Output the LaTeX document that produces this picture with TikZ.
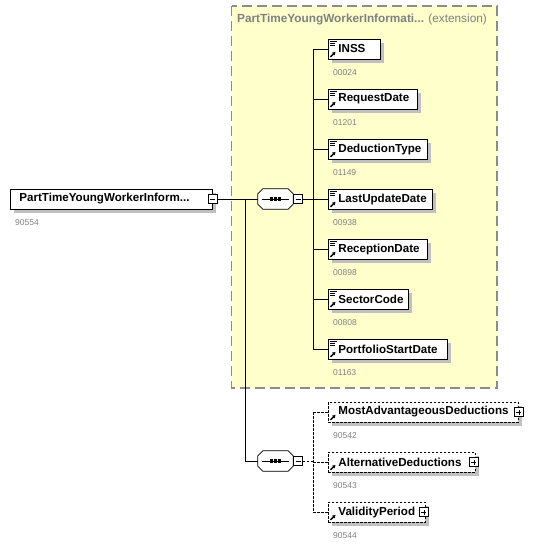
\documentclass[tikz,border=0pt]{standalone}
\usepackage{fontspec}
\setmainfont{Liberation Sans}
\usetikzlibrary{shadows,calc,arrows.meta}
\definecolor{boxyellow}{RGB}{255,255,204}
\definecolor{shadowgray}{RGB}{192,192,192}
\definecolor{numgray}{RGB}{128,128,128}
\definecolor{framegray}{RGB}{140,140,140}
\tikzset{
  shad/.style={drop shadow={shadow xshift=4pt,shadow yshift=-4pt,fill=shadowgray,opacity=1}},
  elembox/.style={draw=black,fill=white,line width=0.8pt,minimum height=20pt,inner xsep=0pt,inner ysep=0pt,
    anchor=west,align=left,font=\fontsize{11.6}{13}\selectfont\bfseries,shad},
  optbox/.style={elembox,dash pattern=on 2.5pt off 1.5pt},
  numlbl/.style={anchor=west,font=\fontsize{8.5}{10}\selectfont,text=numgray,inner sep=0pt},
  pmbox/.style={draw=black,fill=white,minimum size=9pt,inner sep=0pt,line width=0.6pt},
  minusbox/.style={pmbox,path picture={\draw[line width=0.6pt] ([xshift=2pt]path picture bounding box.west) -- ([xshift=-2pt]path picture bounding box.east);}},
  plusbox/.style={pmbox,path picture={\draw[line width=0.6pt] ([xshift=2pt]path picture bounding box.west) -- ([xshift=-2pt]path picture bounding box.east);
      \draw[line width=0.6pt] ([yshift=2pt]path picture bounding box.south) -- ([yshift=-2pt]path picture bounding box.north);}},
  seqbox/.style={rectangle,minimum width=35pt,minimum height=20pt,inner sep=0pt},
  octline/.style={draw=black,fill=white,line width=0.8pt},
  conn/.style={line width=0.8pt},
  optconn/.style={line width=0.8pt,dash pattern=on 2.5pt off 1.5pt},
  iconline/.style={line width=0.7pt},
  iconarrow/.style={line width=1.3pt,-{Triangle[length=3pt,width=3.5pt]}},
}
\newcommand{\lineicon}[1]{%
  \draw[iconline] ([shift={(2,2.5)}]#1.north west) -- ++(7,0);
  \draw[iconline] ([shift={(2,4.5)}]#1.north west) -- ++(5,0);
  \draw[iconline] ([shift={(2,6.5)}]#1.north west) -- ++(5,0);}
\newcommand{\arrowicon}[1]{%
  \draw[iconarrow] ([shift={(2.5,-2.5)}]#1.south west) -- ++(5,-5);}
\newcommand{\octpath}[1]{%
  ([xshift=5pt]#1.north west) -- ([xshift=-5pt]#1.north east) -- ([yshift=-5pt]#1.north east)
  -- ([yshift=5pt]#1.south east) -- ([xshift=-5pt]#1.south east) -- ([xshift=5pt]#1.south west)
  -- ([yshift=5pt]#1.south west) -- ([yshift=-5pt]#1.north west) -- cycle}
\newcommand{\seqglyph}[1]{%
  \fill[shadowgray,shift={(4,4)}] \octpath{#1};
  \path[octline] \octpath{#1};
  \draw[line width=0.9pt] ([xshift=4pt]#1.west) -- ([xshift=-4pt]#1.east);
  \fill ([shift={(-5.6,-1.6)}]#1.center) rectangle ++(3.2,3.2);
  \fill ([shift={(-1.6,-1.6)}]#1.center) rectangle ++(3.2,3.2);
  \fill ([shift={(2.4,-1.6)}]#1.center) rectangle ++(3.2,3.2);}
\begin{document}
\begin{tikzpicture}[x=1pt,y=-1pt]
\useasboundingbox (0,0) rectangle (551,544);
% extension box
\draw[fill=boxyellow,draw=framegray,line width=1.2pt,dash pattern=on 10pt off 5pt] (231.5,6) rectangle (497,388);
\node[anchor=west,inner sep=0pt,text=numgray] (title) at (237,19.5)
  {\fontsize{11.8}{13}\selectfont\textbf{PartTimeYoungWorkerInformati...} (extension)};

% main element
\node[elembox,text width=202pt] (main) at (10,199) {\hspace*{9pt}PartTimeYoungWorkerInform...};
\node[minusbox] (m0) at (main.east) {};
\node[numlbl] (n0) at ([shift={(5,13)}]main.south west) {90554};

% sequence 1
\node[seqbox] (s1) at (275.5,199) {};
\seqglyph{s1}
\node[minusbox,anchor=west] (ms1) at (s1.east) {};

% sequence 2
\node[seqbox] (s2) at (275.5,461) {};
\seqglyph{s2}
\node[minusbox,anchor=west] (ms2) at (s2.east) {};

\coordinate (j0) at (245,199);
\coordinate (j1) at (313,199);
\coordinate (j2) at (313,461);

% children of sequence 1
\node[elembox,text width=52pt] (c1) at (328,49) {\hspace*{10pt}INSS};
\node[elembox,text width=89pt] (c2) at (328,99) {\hspace*{10pt}RequestDate};
\node[elembox,text width=99pt] (c3) at (328,149) {\hspace*{10pt}DeductionType};
\node[elembox,text width=104pt] (c4) at (328,199) {\hspace*{10pt}LastUpdateDate};
\node[elembox,text width=99pt] (c5) at (328,249) {\hspace*{10pt}ReceptionDate};
\node[elembox,text width=80pt] (c6) at (328,299) {\hspace*{10pt}SectorCode};
\node[elembox,text width=119pt] (c7) at (328,349) {\hspace*{10pt}PortfolioStartDate};
\foreach \c/\n in {c1/00024,c2/01201,c3/01149,c4/00938,c5/00898,c6/00808,c7/01163}{
  \lineicon{\c}
  \arrowicon{\c}
  \node[numlbl] at ([shift={(5,13)}]\c.south west) {\n};
}

% children of sequence 2
\node[optbox,text width=190pt] (d1) at (328,412) {\hspace*{10pt}MostAdvantageousDeductions};
\node[optbox,text width=147pt] (d2) at (328,462) {\hspace*{10pt}AlternativeDeductions};
\node[optbox,text width=97pt] (d3) at (328,512) {\hspace*{10pt}ValidityPeriod};
\node[plusbox] (p1) at ([xshift=0pt]d1.east) {};
\node[plusbox] (p2) at ([xshift=-2pt]d2.east) {};
\node[plusbox] (p3) at ([xshift=-2pt]d3.east) {};
\foreach \c/\n in {d1/90542,d2/90543,d3/90544}{
  \arrowicon{\c}
  \node[numlbl] at ([shift={(5,13)}]\c.south west) {\n};
}

% connectors
\draw[conn] (m0.east) -- (s1.west);
\draw[conn] (j0) |- (s2.west);
\draw[conn] (ms1.east) -- (c4.west);
\draw[conn] (j1 |- c1.west) -- (j1 |- c7.west);
\foreach \c in {c1,c2,c3,c5,c6,c7}{
  \draw[conn] (j1 |- \c.west) -- (\c.west);
}
\draw[optconn] (ms2.east) -- (j2);
\draw[optconn] (j2 |- d1.west) -- (j2 |- d3.west);
\foreach \c in {d1,d2,d3}{
  \draw[optconn] (j2 |- \c.west) -- (\c.west);
}
\end{tikzpicture}
\end{document}
